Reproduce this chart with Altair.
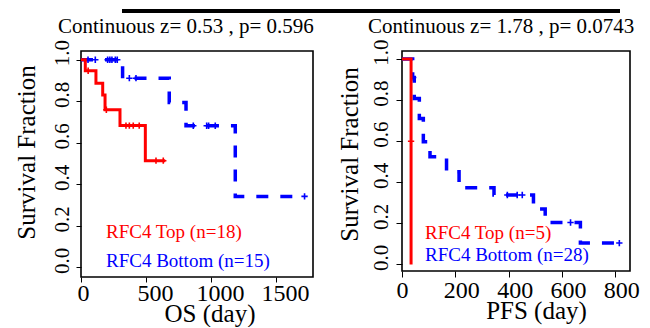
import altair as alt
import pandas as pd

FONT = "Liberation Serif"
RED = "#ff0000"
BLUE = "#0000ff"

# ---- OS panel data ----
os_top_t = [0, 33, 115, 167, 185, 300, 495, 648]
os_top_s = [1.0, 0.947, 0.887, 0.83, 0.759, 0.683, 0.514, 0.514]
os_top_cens_t = [55, 195, 346, 372, 402, 448, 577, 633]
os_top_cens_s = [0.947, 0.759, 0.683, 0.683, 0.683, 0.683, 0.514, 0.514]

os_bot_t = [0, 320, 679, 808, 1187, 1720]
os_bot_s = [1.0, 0.911, 0.794, 0.682, 0.342, 0.342]
os_bot_cens_t = [54, 110, 205, 222, 238, 264, 279, 372, 423, 864, 967, 982, 1033, 1720]
os_bot_cens_s = [1.0, 1.0, 1.0, 1.0, 1.0, 1.0, 1.0, 0.911, 0.911, 0.682, 0.682, 0.682, 0.682, 0.342]

# ---- PFS panel data ----
pfs_top_t = [0, 34]
pfs_top_s = [1.0, 0.0]
pfs_top_cens_t = [34]
pfs_top_cens_s = [0.6]

pfs_bot_t = [0, 40, 46, 65, 80, 105, 167, 214, 345, 493, 537, 669, 815]
pfs_bot_s = [1.0, 0.91, 0.808, 0.711, 0.597, 0.524, 0.451, 0.373, 0.338, 0.27, 0.204, 0.104, 0.104]
pfs_bot_cens_t = [42, 395, 432, 451, 632, 815]
pfs_bot_cens_s = [0.91, 0.338, 0.338, 0.338, 0.204, 0.104]

y_ticks = [0.0, 0.2, 0.4, 0.6, 0.8, 1.0]
os_x_ticks = [0, 500, 1000, 1500]
pfs_x_ticks = [0, 200, 400, 600, 800]

os_title = "Continuous z= 0.53 , p= 0.596"
pfs_title = "Continuous z= 1.78 , p= 0.0743"
os_legend = ["RFC4 Top (n=18)", "RFC4 Bottom (n=15)"]
pfs_legend = ["RFC4 Top (n=5)", "RFC4 Bottom (n=28)"]

PLUS = "M-1,0L1,0M0,-1L0,1"


def panel(top_t, top_s, topc_t, topc_s, bot_t, bot_s, botc_t, botc_s,
          xdom, ydom, xticks, xtitle, w, h, geo, title, legend, rule=None):
    xs = alt.Scale(domain=xdom, nice=False, zero=False)
    ys = alt.Scale(domain=ydom, nice=False, zero=False)
    xaxis = alt.Axis(values=xticks, format="d", grid=False, domain=False,
                     tickSize=geo["xtick"], tickColor="black", tickWidth=1,
                     labelFont=FONT, labelFontSize=24, labelColor="black",
                     labelBaseline="alphabetic", labelPadding=geo["xlabpad"],
                     labelOffset={"condition": {"test": "datum.value === 0",
                                                "value": geo["xoff0"]},
                                  "value": geo["xoff"]},
                     labelFlush=False, labelOverlap=False,
                     title=xtitle, titleFont=FONT, titleFontSize=25,
                     titleFontWeight="normal", titleColor="black",
                     titleX=geo["xtx"], titleY=geo["xty"], titleAlign="center",
                     titleBaseline="alphabetic")
    yaxis = alt.Axis(values=y_ticks, format=".1f", grid=False, domain=False,
                     tickSize=geo["ytick"], tickColor="black", tickWidth=1,
                     labelFont=FONT, labelFontSize=21, labelColor="black",
                     labelAngle=270, labelAlign="center", labelBaseline="alphabetic",
                     labelPadding=geo["ylabpad"], labelOffset=-7,
                     labelOverlap=False, labelFlush=False,
                     title="Survival Fraction", titleFont=FONT, titleFontSize=25,
                     titleFontWeight="normal", titleColor="black", titleAngle=270,
                     titleX=geo["ytx"], titleY=geo["yty"], titleAlign="center",
                     titleBaseline="alphabetic")

    top = pd.DataFrame({"t": top_t, "s": top_s})
    bot = pd.DataFrame({"t": bot_t, "s": bot_s})
    topc = pd.DataFrame({"t": topc_t, "s": topc_s})
    botc = pd.DataFrame({"t": botc_t, "s": botc_s})

    blue_line = alt.Chart(bot).mark_line(
        interpolate="step-after", color=BLUE, strokeWidth=3.5,
        strokeDash=[12, 12], strokeCap="butt"
    ).encode(x=alt.X("t:Q", scale=xs, axis=xaxis),
             y=alt.Y("s:Q", scale=ys, axis=yaxis))
    blue_c = alt.Chart(botc).mark_point(
        shape=PLUS, filled=False, color=BLUE, size=40, strokeWidth=1.6, opacity=1
    ).encode(x=alt.X("t:Q", scale=xs), y=alt.Y("s:Q", scale=ys))
    red_line = alt.Chart(top).mark_line(
        interpolate="step-after", color=RED, strokeWidth=3
    ).encode(x=alt.X("t:Q", scale=xs), y=alt.Y("s:Q", scale=ys))
    red_c = alt.Chart(topc).mark_point(
        shape=PLUS, filled=False, color=RED, size=40, strokeWidth=1.6, opacity=1
    ).encode(x=alt.X("t:Q", scale=xs), y=alt.Y("s:Q", scale=ys))

    ttl = alt.Chart(pd.DataFrame({"txt": [title]})).mark_text(
        font=FONT, fontSize=21, align="left", baseline="alphabetic", color="black"
    ).encode(text="txt:N", x=alt.value(geo["tx"]), y=alt.value(geo["ty"]))
    lg1 = alt.Chart(pd.DataFrame({"txt": [legend[0]]})).mark_text(
        font=FONT, fontSize=19, align="left", baseline="alphabetic", color=RED
    ).encode(text="txt:N", x=alt.value(geo["lx"]), y=alt.value(geo["ly1"]))
    lg2 = alt.Chart(pd.DataFrame({"txt": [legend[1]]})).mark_text(
        font=FONT, fontSize=19, align="left", baseline="alphabetic", color=BLUE
    ).encode(text="txt:N", x=alt.value(geo["lx"]), y=alt.value(geo["ly2"]))

    layers = [blue_line, blue_c, red_line, red_c, ttl, lg1, lg2]
    if rule is not None:
        r = alt.Chart(pd.DataFrame({"a": [0]})).mark_rule(
            color="black", strokeWidth=4
        ).encode(x=alt.value(rule[0]), x2=alt.value(rule[1]), y=alt.value(rule[2]))
        layers.append(r)
    return alt.layer(*layers).properties(width=w, height=h)


left = panel(os_top_t, os_top_s, os_top_cens_t, os_top_cens_s,
             os_bot_t, os_bot_s, os_bot_cens_t, os_bot_cens_s,
             [0, 1785], [-0.046, 1.042], os_x_ticks, "OS (day)", 232, 226,
             dict(xtick=5, xlabpad=18, xtx=128.5, xty=44, xoff0=2, xoff=9,
                  ytick=5, ylabpad=8, ytx=-47, yty=101,
                  tx=-23, ty=-18, lx=25, ly1=187, ly2=216),
             os_title, os_legend, rule=(41, 539, -40))

right = panel(pfs_top_t, pfs_top_s, pfs_top_cens_t, pfs_top_cens_s,
              pfs_bot_t, pfs_bot_s, pfs_bot_cens_t, pfs_bot_cens_s,
              [0, 855], [-0.032, 1.039], pfs_x_ticks, "PFS (day)", 228, 220,
              dict(xtick=6, xlabpad=20, xtx=134, xty=47, xoff0=0, xoff=6,
                   ytick=6, ylabpad=9, ytx=-45, yty=103,
                   tx=-34, ty=-18, lx=23, ly1=188, ly2=210),
              pfs_title, pfs_legend)

chart = alt.hconcat(left, right, spacing=89, bounds="flush").properties(
    padding={"left": 5, "top": 0, "right": 0, "bottom": 0}
).configure_view(stroke="black", strokeWidth=1.6)

chart.save("out.html", embed_options={"renderer": "svg", "actions": False})
